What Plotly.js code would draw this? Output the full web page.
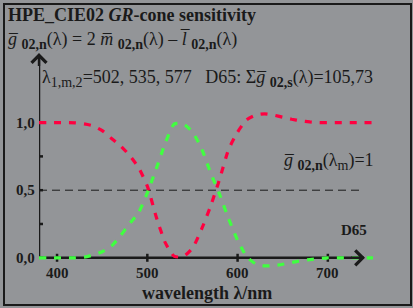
<!DOCTYPE html>
<html><head><meta charset="utf-8">
<script src="https://cdn.plot.ly/plotly-3.0.1.min.js"></script>
<style>
html,body{margin:0;padding:0;background:#939598;}
#wrap{position:relative;width:413px;height:308px;overflow:hidden;}
#frame{position:absolute;left:3px;top:3px;width:405px;height:299px;border:2px solid #1a1a1a;pointer-events:none;}
#plot{position:absolute;left:0;top:0;width:413px;height:308px;}
</style></head>
<body><div id="wrap"><div id="plot"></div><div id="frame"></div></div>
<script>
// wavelength (nm)
const wavelength = [380,390,400,410,420,430,440,450,460,470,480,490,500,510,520,530,540,550,560,570,580,590,600,610,620,630,640,650,660,670,680,690,700,710,720,730,740,750];
// red dashed curve
const redCurve = [1.0,1.0,1.0,1.0,0.998,0.99,0.975,0.94,0.885,0.83,0.76,0.67,0.53,0.30,0.11,0.01,0.01,0.07,0.21,0.38,0.58,0.80,0.93,1.02,1.055,1.065,1.055,1.04,1.025,1.013,1.005,1.0,1.0,1.0,1.0,1.0,1.0,1.0];
// green dashed curve  g_02,n
const greenCurve = [0,0,0,0,0,0.005,0.02,0.045,0.085,0.16,0.25,0.33,0.48,0.66,0.85,0.99,0.99,0.93,0.81,0.63,0.47,0.29,0.13,0.01,-0.045,-0.06,-0.058,-0.048,-0.035,-0.022,-0.013,-0.006,0,0,0,0,0,0];
const xTicks = [400,500,600,700];
const yTicks = [0,0.25,0.5,0.75,1.0];
const yLabelVals = [0,0.5,1.0];
const yLabelText = ['0,0','0,5','1,0'];

const W=413,H=308,ML=39,MR=31,MT=55,MB=34;
const PW=W-ML-MR, PH=H-MT-MB;
const px = x => (x-ML)/PW;
const py = y => (H-MB-y)/PH;
const FONT = 'Liberation Serif, Times New Roman, serif';
const INK = '#1a1a1a';
const OL = '\u0305';
const sub = s => '<sub><span style="font-size:14px"><b>'+s+'</b></span></sub>';

const traces = [
 {x:wavelength,y:redCurve,mode:'lines',line:{color:'#ff0040',width:3.2,dash:'7px,8px',shape:'spline',smoothing:0.6},hoverinfo:'skip'},
 {x:wavelength,y:greenCurve,mode:'lines',line:{color:'#40ff40',width:3.2,dash:'7px,8px',shape:'spline',smoothing:0.6},hoverinfo:'skip'}
];

const shapes = [
 {type:'line',xref:'x',yref:'y',x0:380,x1:740,y0:0,y1:0,line:{color:INK,width:2.5},layer:'below'},
 {type:'line',xref:'x',yref:'y',x0:380,x1:380,y0:0,y1:1.49,line:{color:INK,width:2.5},layer:'below'},
 {type:'line',xref:'x',yref:'y',x0:380,x1:740,y0:0.5,y1:0.5,line:{color:INK,width:1,dash:'8px,5px'},layer:'below'}
];
xTicks.forEach(v=>shapes.push({type:'line',xref:'x',yref:'y',ysizemode:'pixel',yanchor:0,y0:-4,y1:4,x0:v,x1:v,line:{color:INK,width:2.5},layer:'below'}));
yTicks.forEach(v=>shapes.push({type:'line',xref:'x',yref:'y',xsizemode:'pixel',xanchor:380,x0:-4,x1:4,y0:v,y1:v,line:{color:INK,width:2.5},layer:'below'}));

const ann = [];
function txt(text,x,y,size,opts){ann.push(Object.assign({text:text,xref:'paper',yref:'paper',x:px(x),y:py(y),xanchor:'left',yanchor:'middle',showarrow:false,font:{family:FONT,size:size,color:INK}},opts||{}));}
txt('<b>HPE_CIE02 <i>GR</i>-cone sensitivity</b>',6,15,18);
txt('<i>g'+OL+'</i> '+sub('02,n')+'(λ) = 2 <i>m'+OL+'</i> '+sub('02,n')+'(λ) – <i>l'+OL+'</i> '+sub('02,n')+'(λ)',6,41,18);
txt('λ'+'<sub><span style="font-size:14px">1,m,2</span></sub>'+'=502, 535, 577   D65: Σ<i>g'+OL+'</i> '+sub('02,s')+'(λ)=105,73',40,78,18);
txt('<i>g'+OL+'</i> '+sub('02,n')+'(λ<sub><span style="font-size:14px">m</span></sub>)=1',282,161,18);
txt('<b>D65</b>',339,230,15);
txt('<b>wavelength λ/nm</b>',207,293,18,{xanchor:'center'});
xTicks.forEach(v=>ann.push({text:'<b>'+v+'</b>',xref:'x',yref:'paper',x:v,y:py(273),xanchor:'center',yanchor:'middle',showarrow:false,font:{family:FONT,size:15,color:INK}}));
yLabelVals.forEach((v,i)=>ann.push({text:'<b>'+yLabelText[i]+'</b>',xref:'paper',yref:'y',x:px(37),y:v,xanchor:'right',yanchor:'middle',showarrow:false,font:{family:FONT,size:15,color:INK}}));
// axis arrow heads as plain-text glyph-free annotation arrows
ann.push({text:'\u00a0',xref:'paper',yref:'paper',x:px(365),y:py(257.8),ax:-16,ay:0,axref:'pixel',ayref:'pixel',showarrow:true,arrowhead:4,arrowsize:1.2,arrowwidth:2.4,arrowcolor:INK,font:{size:2}});
ann.push({text:'\u00a0',xref:'paper',yref:'paper',x:px(39),y:py(53),ax:0,ay:16,axref:'pixel',ayref:'pixel',showarrow:true,arrowhead:4,arrowsize:1.2,arrowwidth:2.4,arrowcolor:INK,font:{size:2}});

const layout = {
 width:W,height:H,autosize:false,
 margin:{l:ML,r:MR,t:MT,b:MB,pad:0},
 paper_bgcolor:'rgba(0,0,0,0)',plot_bgcolor:'rgba(0,0,0,0)',
 showlegend:false,
 xaxis:{range:[380,760],showgrid:false,zeroline:false,showline:false,showticklabels:false,ticks:'',fixedrange:true},
 yaxis:{range:[-0.12,1.5],showgrid:false,zeroline:false,showline:false,showticklabels:false,ticks:'',fixedrange:true},
 shapes:shapes,annotations:ann
};
Plotly.newPlot('plot',traces,layout,{staticPlot:true,displayModeBar:false});
</script></body></html>
